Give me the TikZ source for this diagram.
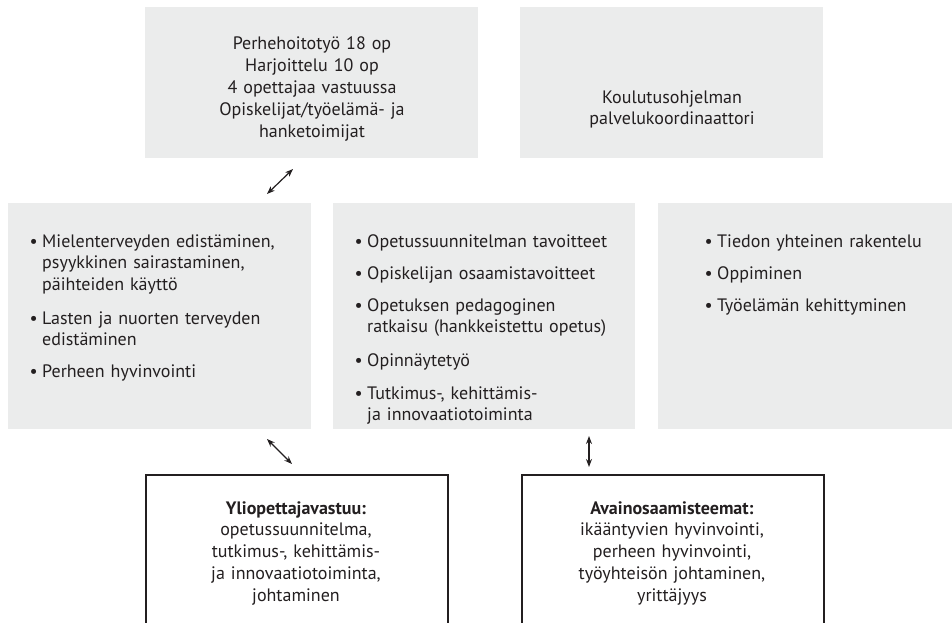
\documentclass[tikz,border=0pt]{standalone}
\usepackage{fontspec}
\setmainfont{PT Sans}
\usetikzlibrary{arrows.meta}
\definecolor{boxgray}{HTML}{EBECEC}
\definecolor{ink}{HTML}{231F20}
\begin{document}
\begin{tikzpicture}[x=1pt,y=-1pt,
  graybox/.style={fill=boxgray, draw=none, inner sep=0, anchor=north west},
  outlinebox/.style={draw=ink, line width=1.6pt, fill=white, inner sep=0, anchor=north west},
  txt/.style={font=\fontsize{18}{21.8}\selectfont, text=ink, inner sep=0},
  ctext/.style={txt, text width=330pt, align=center, anchor=base},
  itm/.style={txt, text width=290pt, align=left, anchor=base west},
  link/.style={{Stealth[length=8pt,width=6pt]}-{Stealth[length=8pt,width=6pt]}, line width=1.2pt, draw=ink}
]
\useasboundingbox (0,0) rectangle (952,623);
\clip (0,0) rectangle (952,623);
\newcommand{\bul}{\llap{\textbullet\hspace{4.5pt}}}

% top boxes
\node[graybox, minimum width=333pt, minimum height=151pt] (t1) at (145,7) {};
\node[graybox, minimum width=303pt, minimum height=151pt] (t2) at (520,7) {};
% middle boxes
\node[graybox, minimum width=303pt, minimum height=226pt] (ma) at (8,203) {};
\node[graybox, minimum width=302pt, minimum height=226pt] (mb) at (333,203) {};
\node[graybox, minimum width=300pt, minimum height=226pt] (mc) at (658,203) {};
% bottom boxes
\node[outlinebox, minimum width=302pt, minimum height=200pt] (bd) at (145,474) {};
\node[outlinebox, minimum width=302pt, minimum height=200pt] (be) at (521,474) {};

% top texts
\node[ctext] (t1txt) at (312,50) {Perhehoitotyö 18 op\\Harjoittelu 10 op\\4 opettajaa vastuussa\\Opiskelijat/työelämä- ja\\hanketoimijat};
\node[ctext] (t2txt) at (672,103) {Koulutusohjelman\\palvelukoordinaattori};

% box A items
\node[itm] (a1) at (42,247) {\bul Mielenterveyden edistäminen,\\psyykkinen sairastaminen,\\päihteiden käyttö};
\node[itm] (a2) at (42,324) {\bul Lasten ja nuorten terveyden\\edistäminen};
\node[itm] (a3) at (42,377) {\bul Perheen hyvinvointi};

% box B items
\node[itm] (b1) at (367,247) {\bul Opetussuunnitelman tavoitteet};
\node[itm] (b2) at (367,279) {\bul Opiskelijan osaamistavoitteet};
\node[itm] (b3) at (367,311) {\bul Opetuksen pedagoginen\\ratkaisu (hankkeistettu opetus)};
\node[itm] (b4) at (367,366) {\bul Opinnäytetyö};
\node[itm] (b5) at (367,399) {\bul Tutkimus-, kehittämis-\\ja innovaatiotoiminta};

% box C items
\node[itm] (c1) at (717,247) {\bul Tiedon yhteinen rakentelu};
\node[itm] (c2) at (717,279) {\bul Oppiminen};
\node[itm] (c3) at (717,311) {\bul Työelämän kehittyminen};

% bottom texts
\node[ctext] (dtxt) at (296,514) {\textbf{Yliopettajavastuu:}\\opetussuunnitelma,\\tutkimus-, kehittämis-\\ja innovaatiotoiminta,\\johtaminen};
\node[ctext] (etxt) at (672,514) {\textbf{Avainosaamisteemat:}\\ikääntyvien hyvinvointi,\\perheen hyvinvointi,\\työyhteisön johtaminen,\\yrittäjyys};

% connectors
\coordinate (l1a) at (267,194);
\coordinate (l1b) at (293,169);
\coordinate (l2a) at (267,439);
\coordinate (l2b) at (292,464);
\coordinate (l3a) at (589,436);
\coordinate (l3b) at (589,467);
\draw[link] (l1a) -- (l1b);
\draw[link] (l2a) -- (l2b);
\draw[link] (l3a) -- (l3b);
\end{tikzpicture}
\end{document}
